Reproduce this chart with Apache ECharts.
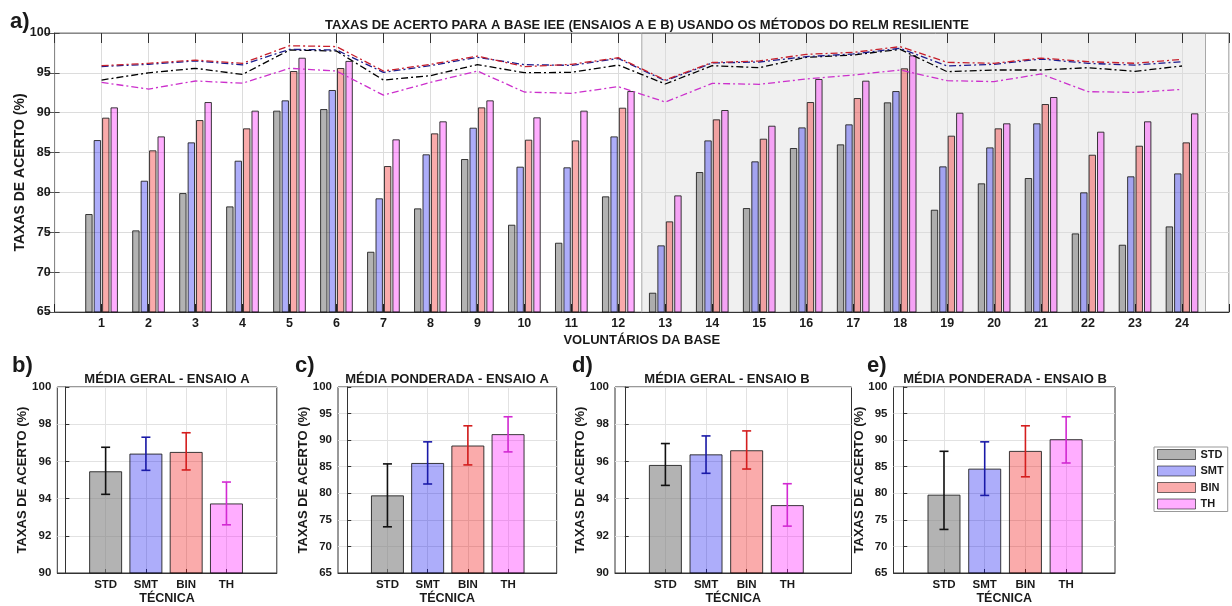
<!DOCTYPE html>
<html>
<head>
<meta charset="utf-8">
<script src="https://cdn.jsdelivr.net/npm/echarts@6/dist/echarts.min.js"></script>
<style>
  html, body { margin: 0; padding: 0; background: #ffffff; }
  #chart { width: 1232px; height: 606px; }
</style>
</head>
<body>
<div id="chart"></div>
<script>
// ---- Data -------------------------------------------------------------
const voluntarios = [1, 2, 3, 4, 5, 6, 7, 8, 9, 10, 11, 12, 13, 14, 15, 16, 17, 18, 19, 20, 21, 22, 23, 24];
const tecnicas = ['STD', 'SMT', 'BIN', 'TH'];

// per-volunteer accuracy (bars)
const stdBars = [77.29, 75.24, 79.92, 78.25, 90.26, 90.46, 72.56, 78.00, 84.19, 75.95, 73.69, 79.51, 67.42, 82.56, 78.04, 85.57, 86.03, 91.30, 77.83, 81.14, 81.81, 74.86, 73.44, 75.74];
const smtBars = [86.57, 81.47, 86.28, 83.98, 91.55, 92.85, 79.26, 84.78, 88.12, 83.23, 83.15, 87.03, 73.36, 86.53, 83.90, 88.16, 88.54, 92.72, 83.27, 85.65, 88.67, 80.01, 82.02, 82.39];
const binBars = [89.38, 85.28, 89.08, 88.04, 95.23, 95.61, 83.31, 87.41, 90.67, 86.62, 86.53, 90.63, 76.37, 89.17, 86.74, 91.34, 91.84, 95.57, 87.12, 88.04, 91.09, 84.73, 85.86, 86.28];
const thBars  = [90.67, 87.03, 91.34, 90.26, 96.90, 96.50, 86.66, 88.92, 91.55, 89.42, 90.26, 92.72, 79.63, 90.34, 88.37, 94.23, 94.02, 97.20, 90.00, 88.67, 91.97, 87.62, 88.92, 89.92];

// per-volunteer accuracy (dash-dot lines)
const stdLine = [94.10, 95.00, 95.57, 94.80, 97.87, 97.74, 94.10, 94.65, 96.03, 95.02, 95.06, 95.98, 93.60, 95.90, 95.65, 96.95, 97.24, 97.95, 95.15, 95.36, 95.36, 95.65, 95.19, 95.86];
const smtLine = [95.80, 96.07, 96.50, 96.00, 97.95, 97.87, 95.06, 95.90, 96.95, 96.03, 95.94, 96.80, 94.00, 96.24, 96.36, 97.03, 97.37, 98.08, 95.86, 96.07, 96.74, 96.19, 95.98, 96.40];
const binLine = [95.90, 96.20, 96.60, 96.20, 98.40, 98.30, 95.23, 96.07, 97.10, 95.78, 96.07, 96.90, 94.10, 96.30, 96.49, 97.32, 97.57, 98.29, 96.32, 96.20, 96.86, 96.40, 96.20, 96.70];
const thLine  = [93.80, 92.97, 93.98, 93.70, 95.57, 95.23, 92.20, 93.80, 95.23, 92.60, 92.43, 93.27, 91.34, 93.68, 93.56, 94.23, 94.73, 95.36, 94.02, 93.90, 94.86, 92.64, 92.55, 92.93];

// region of volunteers shaded in grey
const ensaioBInicio = 12.5;
const ensaioBFim = 24.5;

// summary panels: mean and error-bar limits per technique
const geralA     = [95.47, 96.42, 96.51, 93.74];
const geralALow  = [94.23, 95.52, 95.54, 92.59];
const geralAHigh = [96.76, 97.30, 97.54, 94.89];

const pondA     = [79.61, 85.71, 88.99, 91.13];
const pondALow  = [73.69, 81.75, 85.34, 87.79];
const pondAHigh = [85.53, 89.68, 92.70, 94.40];

const geralB     = [95.81, 96.38, 96.60, 93.65];
const geralBLow  = [94.71, 95.36, 95.59, 92.52];
const geralBHigh = [96.96, 97.37, 97.64, 94.80];

const pondB     = [79.74, 84.64, 87.98, 90.18];
const pondBLow  = [73.20, 79.60, 83.10, 85.70];
const pondBHigh = [87.90, 89.68, 92.70, 94.40];

// ---- Styles -----------------------------------------------------------
const FONT = '"Liberation Sans", Arial, sans-serif';
const TXT = '#1a1a1a';
const fills = ['rgba(128,128,128,0.60)', 'rgba(0,0,240,0.32)', 'rgba(240,0,0,0.33)', 'rgba(255,0,255,0.32)'];
const lineColors = ['#000000', '#1c1c8c', '#c8202c', '#cc30cc'];
const errColors = ['#111111', '#1a1aa8', '#d41e1e', '#d22ad2'];
const barBorder = 'rgba(25,25,25,0.85)';

const chart = echarts.init(document.getElementById('chart'), null, { renderer: 'canvas' });

// ---- Top chart --------------------------------------------------------
function topBars(name, values, k) {
  return {
    type: 'bar', name: name, xAxisIndex: 0, yAxisIndex: 0, z: 3,
    data: values.map((v, i) => [voluntarios[i], v]),
    barWidth: 7.4, barGap: '14%',
    itemStyle: { color: fills[k], borderColor: barBorder, borderWidth: 1 },
    silent: true
  };
}
function topLine(name, values, k) {
  return {
    type: 'line', name: name, xAxisIndex: 0, yAxisIndex: 0, z: 4,
    data: values.map((v, i) => [voluntarios[i], v]),
    showSymbol: false, symbol: 'none',
    lineStyle: { color: lineColors[k], width: 1.3, type: [7, 3, 2, 3] },
    silent: true
  };
}

// ---- Summary panels ---------------------------------------------------
const panels = [
  { mean: geralA, low: geralALow, high: geralAHigh, left: 57.3, width: 219.5, min: -0.2, max: 5.25, yMin: 90, yMax: 100, yStep: 2 },
  { mean: pondA,  low: pondALow,  high: pondAHigh,  left: 338,  width: 218.7, min: -0.23, max: 5.21, yMin: 65, yMax: 100, yStep: 5 },
  { mean: geralB, low: geralBLow, high: geralBHigh, left: 615,  width: 236.5, min: -0.24, max: 5.58, yMin: 90, yMax: 100, yStep: 2 },
  { mean: pondB,  low: pondBLow,  high: pondBHigh,  left: 893.5, width: 221.5, min: -0.24, max: 5.20, yMin: 65, yMax: 100, yStep: 5 }
];
const tecIdx = tecnicas.map((t, i) => i + 1);

const grids = [
  { left: 54.6, top: 33, width: 1186, height: 279, show: true, borderColor: '#777', borderWidth: 1, backgroundColor: 'transparent' }
];
const xAxes = [
  {
    type: 'value', gridIndex: 0, min: 0, max: 25, interval: 1, z: 2,
    axisLine: { lineStyle: { color: '#333' } },
    axisTick: { inside: true, length: 8, lineStyle: { color: '#222' } },
    axisLabel: {
      formatter: v => (voluntarios.indexOf(v) >= 0 ? String(v) : ''),
      color: TXT, fontWeight: 'bold', fontSize: 12.5, fontFamily: FONT, margin: 5
    },
    splitLine: { show: true, lineStyle: { color: '#dcdcdc' } },
    name: 'VOLUNTÁRIOS DA BASE', nameLocation: 'middle', nameGap: 22,
    nameTextStyle: { color: TXT, fontWeight: 'bold', fontSize: 13, fontFamily: FONT }
  },
  {
    type: 'value', gridIndex: 0, position: 'top', min: 0, max: 25, interval: 1, z: 2,
    axisLine: { lineStyle: { color: '#888' } },
    axisTick: { inside: true, length: 10, lineStyle: { color: '#333' } },
    axisLabel: { show: false }, splitLine: { show: false }
  }
];
const yAxes = [
  {
    type: 'value', gridIndex: 0, min: 65, max: 100, interval: 5, z: 2,
    axisLine: { show: true, lineStyle: { color: '#444' } },
    axisTick: { show: true, inside: true, length: 5, lineStyle: { color: '#444' } },
    axisLabel: { color: TXT, fontWeight: 'bold', fontSize: 12.5, fontFamily: FONT, margin: 4 },
    splitLine: { show: true, lineStyle: { color: '#dcdcdc' } },
    name: 'TAXAS DE ACERTO (%)', nameLocation: 'middle', nameGap: 27, nameRotate: 90,
    nameMoveOverlap: false,
    nameTextStyle: { color: TXT, fontWeight: 'bold', fontSize: 14, fontFamily: FONT }
  },
  {
    type: 'value', gridIndex: 0, position: 'right', min: 65, max: 100, interval: 5, z: 2,
    axisLine: { show: true, lineStyle: { color: '#888' } },
    axisTick: { show: true, inside: true, length: 10, lineStyle: { color: '#555' } },
    axisLabel: { show: false }, splitLine: { show: false }
  }
];

const series = [
  // grey shaded band behind the later volunteers
  {
    type: 'line', name: 'faixa', xAxisIndex: 0, yAxisIndex: 0, data: [], silent: true,
    markArea: {
      silent: true, z: 1,
      itemStyle: { color: '#f0f0f0', borderColor: '#a8a8a8', borderWidth: 1 },
      data: [[{ xAxis: ensaioBInicio, yAxis: 65 }, { xAxis: ensaioBFim, yAxis: 100 }]]
    }
  },
  topBars('STD', stdBars, 0),
  topBars('SMT', smtBars, 1),
  topBars('BIN', binBars, 2),
  topBars('TH', thBars, 3),
  topLine('STD (linha)', stdLine, 0),
  topLine('SMT (linha)', smtLine, 1),
  topLine('BIN (linha)', binLine, 2),
  topLine('TH (linha)', thLine, 3)
];

panels.forEach((p, k) => {
  const g = k + 1;          // grid index of this panel
  const ax = xAxes.length;  // axis index (the top chart uses two per direction)
  grids.push({ left: p.left, top: 387, width: p.width, height: 186, show: true, borderColor: '#333', borderWidth: 1, backgroundColor: 'transparent' });
  xAxes.push({
    type: 'value', gridIndex: g, min: p.min, max: p.max,
    axisLine: { lineStyle: { color: '#333' } },
    axisTick: { inside: true, length: 4, customValues: tecIdx, lineStyle: { color: '#333' } },
    axisLabel: {
      customValues: tecIdx, formatter: v => tecnicas[Math.round(v) - 1] || '',
      color: TXT, fontWeight: 'bold', fontSize: 11.5, fontFamily: FONT, margin: 6
    },
    splitLine: { show: true, lineStyle: { color: '#e2e2e2' } },
    name: 'TÉCNICA', nameLocation: 'middle', nameGap: 18,
    nameTextStyle: { color: TXT, fontWeight: 'bold', fontSize: 12.5, fontFamily: FONT }
  });
  yAxes.push({
    type: 'value', gridIndex: g, min: p.yMin, max: p.yMax, interval: p.yStep,
    axisLine: { show: true, lineStyle: { color: '#333' } },
    axisTick: { show: true, inside: true, length: 4, lineStyle: { color: '#333' } },
    axisLabel: { color: TXT, fontWeight: 'bold', fontSize: 11.5, fontFamily: FONT, margin: 6 },
    splitLine: { show: true, lineStyle: { color: '#e2e2e2' } },
    name: 'TAXAS DE ACERTO (%)', nameLocation: 'middle', nameGap: 28, nameRotate: 90,
    nameMoveOverlap: false,
    nameTextStyle: { color: TXT, fontWeight: 'bold', fontSize: 13, fontFamily: FONT }
  });
  series.push({
    type: 'bar', name: 'média ' + g, xAxisIndex: ax, yAxisIndex: ax, z: 3, silent: true,
    barWidth: 33,
    data: p.mean.map((v, i) => ({
      value: [tecIdx[i], v],
      itemStyle: { color: fills[i], borderColor: barBorder, borderWidth: 1 }
    }))
  });
  series.push({
    type: 'custom', name: 'erro ' + g, xAxisIndex: ax, yAxisIndex: ax, z: 5, silent: true,
    data: p.low.map((lo, i) => [tecIdx[i], lo, p.high[i]]),
    encode: { x: 0, y: [1, 2] },
    renderItem: function (params, api) {
      const x = api.value(0);
      const a = api.coord([x, api.value(1)]);
      const b = api.coord([x, api.value(2)]);
      const h = 4.5;
      const st = { stroke: errColors[params.dataIndex], lineWidth: 1.6 };
      return {
        type: 'group',
        children: [
          { type: 'line', shape: { x1: a[0], y1: a[1], x2: b[0], y2: b[1] }, style: st },
          { type: 'line', shape: { x1: b[0] - h, y1: b[1], x2: b[0] + h, y2: b[1] }, style: st },
          { type: 'line', shape: { x1: a[0] - h, y1: a[1], x2: a[0] + h, y2: a[1] }, style: st }
        ]
      };
    }
  });
});

function label(text, x, y, size, align) {
  return {
    type: 'text', x: x, y: y, silent: true, z: 10,
    style: {
      text: text, fill: TXT, font: 'bold ' + size + 'px ' + FONT,
      align: align || 'center', verticalAlign: 'middle',
      textAlign: align || 'center', textVerticalAlign: 'middle'
    }
  };
}

const option = {
  animation: false,
  backgroundColor: '#ffffff',
  textStyle: { fontFamily: FONT },
  grid: grids,
  xAxis: xAxes,
  yAxis: yAxes,
  series: series,
  legend: {
    data: tecnicas, left: 1154, top: 447, orient: 'vertical',
    itemWidth: 38, itemHeight: 10, itemGap: 5.5, icon: 'rect',
    padding: [2, 4, 2, 3], backgroundColor: '#ffffff', borderColor: '#999', borderWidth: 1,
    selectedMode: false,
    itemStyle: { borderColor: 'rgba(0,0,0,0.55)', borderWidth: 1 },
    textStyle: { color: TXT, fontWeight: 'bold', fontSize: 11, fontFamily: FONT }
  },
  graphic: [
    label('a)', 10, 22, 22, 'left'),
    label('TAXAS DE ACERTO PARA A BASE IEE (ENSAIOS A E B) USANDO OS MÉTODOS DO RELM RESILIENTE', 647, 25, 13),
    label('b)', 12, 366, 22, 'left'),
    label('c)', 295, 366, 22, 'left'),
    label('d)', 572, 366, 22, 'left'),
    label('e)', 867, 366, 22, 'left'),
    label('MÉDIA GERAL - ENSAIO A', 167, 379, 13),
    label('MÉDIA PONDERADA - ENSAIO A', 447, 379, 13),
    label('MÉDIA GERAL - ENSAIO B', 727, 379, 13),
    label('MÉDIA PONDERADA - ENSAIO B', 1005, 379, 13)
  ]
};

chart.setOption(option);
</script>
</body>
</html>
